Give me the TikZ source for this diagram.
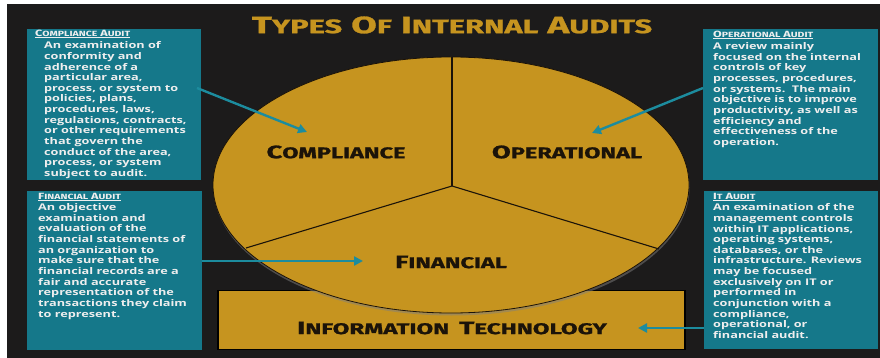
\documentclass[tikz,border=0pt]{standalone}
\usepackage{fontspec}
\setmainfont{Open Sans}
\newfontfamily\bodyfont{Open Sans}[FakeStretch=1.38]
\newfontfamily\capfont{Fira Sans}[FakeStretch=1.4]
\newfontfamily\titlefont{Fira Sans}[FakeStretch=1.58, FakeBold=1.2]
\newfontfamily\labelfont{Fira Sans}[FakeStretch=1.52, FakeBold=1.2]
\newfontfamily\itlabelfont{Fira Sans}[FakeStretch=1.56, FakeBold=1.2]
\usetikzlibrary{arrows.meta,shapes.geometric,shadows}
\definecolor{bgdark}{HTML}{1C1B1B}
\definecolor{gold}{HTML}{C6941F}
\definecolor{tealbox}{HTML}{15788A}
\definecolor{tealarrow}{HTML}{1C8C9E}
\definecolor{labelink}{HTML}{1B1309}
\definecolor{boxtext}{HTML}{EEEEEE}
\newcommand\Tsc[2]{{\fontsize{23.5}{23.5}\selectfont #1}{\fontsize{19.5}{19.5}\selectfont #2}}
\newcommand\Lsc[2]{{\fontsize{18}{18}\selectfont #1}{\fontsize{15.5}{15.5}\selectfont #2}}
\newcommand\Hsc[2]{{\fontsize{9}{9}\selectfont #1}{\fontsize{7.5}{7.5}\selectfont #2}}
\newcommand\gap[1]{\hspace*{#1}}
\tikzset{
  tealrect/.style={fill=tealbox, draw=none, inner sep=0pt, anchor=north west},
  headtext/.style={text=boxtext, font=\capfont\bfseries, inner sep=0pt, anchor=west},
  bodytext/.style={text=boxtext, font=\bodyfont\bfseries\fontsize{9.2}{10.65}\selectfont, align=left, inner sep=0pt, anchor=north west},
  pielabel/.style={text=labelink, font=\labelfont\bfseries, inner sep=0pt},
  tealarr/.style={draw=tealarrow, line width=2.4pt, -{Triangle[length=9pt,width=9pt]}},
  divider/.style={draw=labelink, line width=1.1pt}
}
\begin{document}
\begin{tikzpicture}[x=1pt,y=-1pt]
\useasboundingbox (0,0) rectangle (880,358);
\fill[white] (0,0) rectangle (880,358);
\fill[bgdark] (7,4) rectangle (880,358);

% title
\node[text=gold, font=\titlefont\bfseries, inner sep=0pt] (title) at (452,25)
  {\Tsc{T}{YPES}\gap{9pt}\Tsc{O}{F}\gap{9pt}\Tsc{I}{NTERNAL}\gap{9pt}\Tsc{A}{UDITS}};

% IT rectangle
\node[fill=gold, draw=black, line width=1.8pt, minimum width=467pt, minimum height=59pt, inner sep=0pt] (itrect) at (451.5,320) {};

% pie
\node[ellipse, fill=gold, draw=labelink, line width=0.8pt, minimum width=476pt, minimum height=256pt, inner sep=0pt,
      drop shadow={opacity=0.5, shadow xshift=0.5pt, shadow yshift=-2.5pt}] (pie) at (451,185) {};
\coordinate (pc) at (452,186);
\coordinate (ptop) at (452,57);
\coordinate (pleft) at (246,248);
\coordinate (pright) at (659,249);
\draw[divider] (pc) -- (ptop);
\draw[divider] (pc) -- (pleft);
\draw[divider] (pc) -- (pright);

% pie labels
\node[pielabel] (lcomp) at (336,152) {\Lsc{C}{OMPLIANCE}};
\node[pielabel] (loper) at (567,152) {\Lsc{O}{PERATIONAL}};
\node[pielabel] (lfin) at (451,262) {\Lsc{F}{INANCIAL}};
\node[pielabel, font=\itlabelfont\bfseries] (lit) at (452,328) {\Lsc{I}{NFORMATION}\gap{10pt}\Lsc{T}{ECHNOLOGY}};

% teal boxes
\node[tealrect, minimum width=174pt, minimum height=151pt] (compbox) at (27,29) {};
\node[tealrect, minimum width=175pt, minimum height=151pt] (operbox) at (703,29) {};
\node[tealrect, minimum width=175pt, minimum height=159pt] (finbox) at (27,191) {};
\node[tealrect, minimum width=174pt, minimum height=158pt] (itbox) at (704,191) {};

% box texts
\node[headtext] (comphead) at (35,34) {\underline{\Hsc{C}{OMPLIANCE}\gap{3pt}\Hsc{A}{UDIT}}};
\node[bodytext] (compbody) at (44,41.5) {An examination of\\conformity and\\adherence of a\\particular area,\\process, or system to\\policies, plans,\\procedures, laws,\\regulations, contracts,\\or other requirements\\that govern the\\conduct of the area,\\process, or system\\subject to audit.};

\node[headtext] (operhead) at (713,35) {\underline{\Hsc{O}{PERATIONAL}\gap{3pt}\Hsc{A}{UDIT}}};
\node[bodytext] (operbody) at (713,42.5) {A review mainly\\focused on the internal\\controls of key\\processes, procedures,\\or systems.\ \ The main\\objective is to improve\\productivity, as well as\\efficiency and\\effectiveness of the\\operation.};

\node[headtext] (finhead) at (38,197) {\underline{\Hsc{F}{INANCIAL}\gap{3pt}\Hsc{A}{UDIT}}};
\node[bodytext] (finbody) at (38,203.5) {An objective\\examination and\\evaluation of the\\financial statements of\\an organization to\\make sure that the\\financial records are a\\fair and accurate\\representation of the\\transactions they claim\\to represent.};

\node[headtext] (ithead) at (713,197) {\underline{\Hsc{I}{T}\gap{3pt}\Hsc{A}{UDIT}}};
\node[bodytext] (itbody) at (713,203.5) {An examination of the\\management controls\\within IT applications,\\operating systems,\\databases, or the\\infrastructure. Reviews\\may be focused\\exclusively on IT or\\performed in\\conjunction with a\\compliance,\\operational, or\\financial audit.};

% arrows
\coordinate (compstart) at (197,88);
\coordinate (comptip) at (307,132);
\coordinate (operstart) at (703,88);
\coordinate (opertip) at (592,133);
\coordinate (finstart) at (202,261);
\coordinate (fintip) at (363,261);
\coordinate (itstart) at (704,328);
\coordinate (ittip) at (638,328);
\draw[tealarr] (compstart) -- (comptip);
\draw[tealarr] (operstart) -- (opertip);
\draw[tealarr] (finstart) -- (fintip);
\draw[tealarr] (itstart) -- (ittip);
\end{tikzpicture}
\end{document}
